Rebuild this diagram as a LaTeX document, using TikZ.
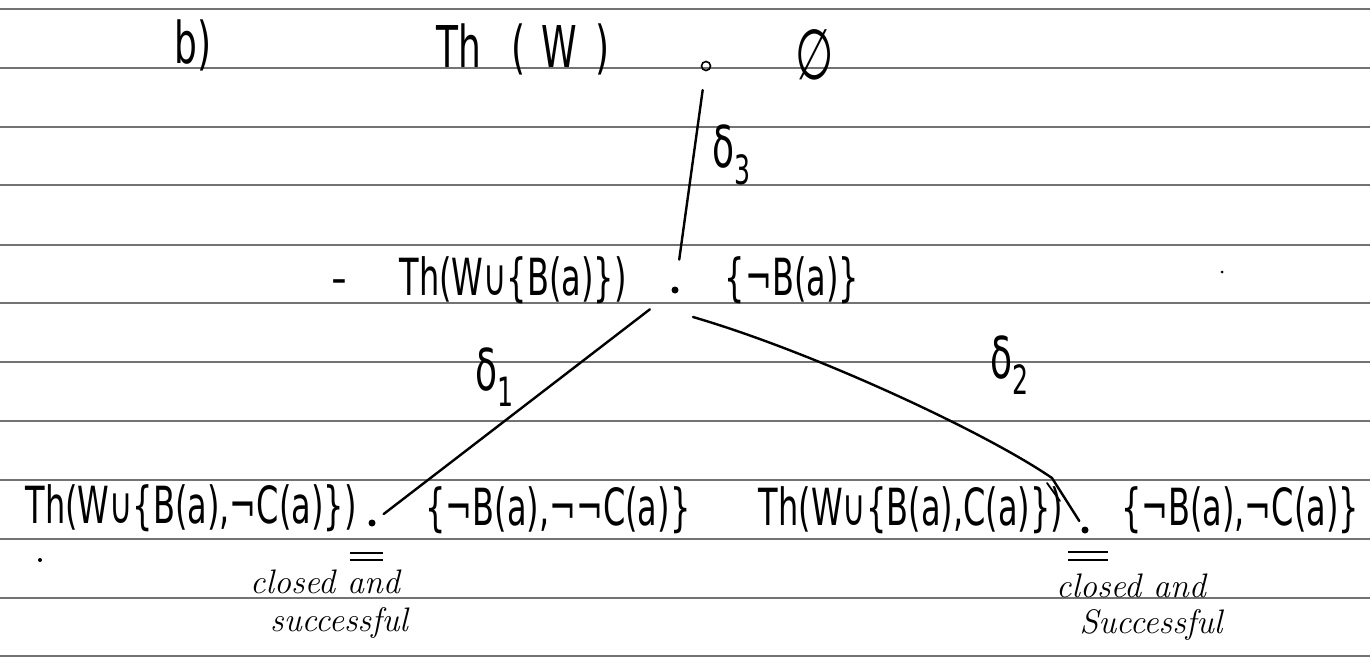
\documentclass[tikz,border=0pt]{standalone}
\usepackage{fontspec}
\usepackage{graphicx}
\newfontfamily\hand{DejaVu Sans}
\newcommand\hwt[1]{\scalebox{1}[1.6]{#1}}
\tikzset{
  rule/.style={draw=black!55, line width=1.2pt},
  pen/.style={line width=2.4pt, line cap=round},
  txt/.style={inner sep=0pt, font=\hand\fontsize{32}{38}\selectfont},
  big/.style={inner sep=0pt, font=\hand\fontsize{36}{40}\selectfont},
  lbl/.style={inner sep=0pt, font=\fontsize{34}{38}\selectfont\itshape},
  dotf/.style={circle, fill=black, inner sep=0pt, minimum size=7pt},
  doto/.style={circle, draw=black, line width=1.6pt, inner sep=0pt, minimum size=9pt},
  speck/.style={circle, fill=black, inner sep=0pt, minimum size=4pt},
}
\begin{document}
\begin{tikzpicture}[x=1pt,y=-1pt]
\useasboundingbox[fill=white] (0,0) rectangle (1370,657);
% ruled paper
\foreach \yy in {9,68,127,185,245,303,362,421,480,539,598,656}
  \draw[rule] (0,\yy) -- (1370,\yy);

% top row
\node[big] (b) at (193,45) {\hwt{b)}};
\node[big] (top) at (523,49) {\hwt{Th\hspace{30pt}(\hspace{16pt}W\hspace{18pt})}};
\node[doto] (n0) at (706,66) {};
\node[txt, font=\hand\fontsize{44}{48}\selectfont] (empty) at (815,55) {\hwt{∅}};

% middle row
\node[txt, font=\hand\fontsize{44}{48}\selectfont] (dash) at (339,287) {-};
\node[txt] (mid) at (513,280) {\hwt{Th(W∪\{B(a)\})}};
\node[dotf] (n1) at (675,290) {};
\node[txt] (midset) at (792,280) {\hwt{\{¬B(a)\}}};

% bottom row
\node[txt] (left) at (191,508) {\hwt{Th(W∪\{B(a),¬C(a)\})}};
\node[dotf] (n2) at (372,523) {};
\node[txt] (leftset) at (558,510) {\hwt{\{¬B(a),¬¬C(a)\}}};
\node[txt] (right) at (911,510) {\hwt{Th(W∪\{B(a),C(a)\})}};
\node[dotf] (n3) at (1085,530) {};
\node[txt] (rightset) at (1240,510) {\hwt{\{¬B(a),¬C(a)\}}};

% connectors
\draw[pen, shorten <=19pt, shorten >=27pt] (n0) -- (n1);
\node[big] (d3) at (732,155) {\hwt{δ\textsubscript{3}}};
\draw[pen, shorten <=28pt, shorten >=11pt] (n1) -- (n2);
\node[big] (d1) at (495,377) {\hwt{δ\textsubscript{1}}};
\coordinate (d2s) at (693,317);
\coordinate (d2m) at (1052,478);
\draw[pen, shorten >=7pt] (d2s) .. controls (813,352) and (985,432) .. (d2m) -- (n3);
\draw[line width=1.8pt, line cap=round] (1047,483) -- (1060,501);
\node[big] (d2) at (1010,365) {\hwt{δ\textsubscript{2}}};

% double underlines
\draw[line width=2pt] (350,553) -- (383,553) (350,560) -- (383,560);
\draw[line width=2pt] (1068,552) -- (1108,552) (1068,560) -- (1108,560);

% notes
\node[lbl] (c1) at (325,582) {closed and};
\node[lbl] (s1) at (339,623) {successful};
\node[lbl] (c2) at (1131,586) {closed and};
\node[lbl] (s2) at (1151,625) {Successful};

% specks
\node[speck] (sp1) at (40,560) {};
\node[speck, minimum size=3pt] (sp2) at (1222,272) {};
\end{tikzpicture}
\end{document}
